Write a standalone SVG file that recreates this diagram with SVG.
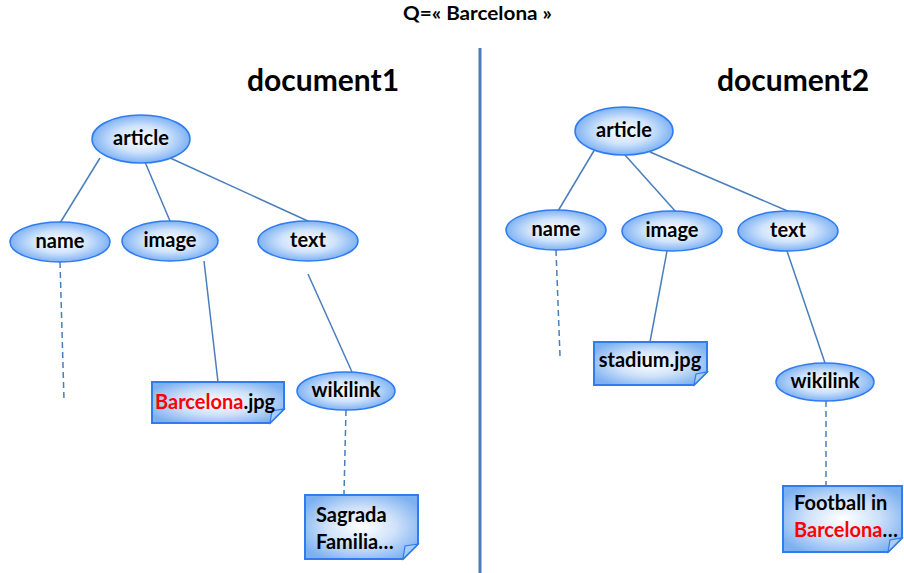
<svg xmlns="http://www.w3.org/2000/svg" width="904" height="573" viewBox="0 0 904 573">
<defs>
<radialGradient id="eg" cx="50%" cy="50%" r="55%">
<stop offset="0" stop-color="#ffffff"/>
<stop offset="0.5" stop-color="#cfe3fb"/>
<stop offset="1" stop-color="#6ea8f2"/>
</radialGradient>
<radialGradient id="ng" cx="50%" cy="50%" r="60%">
<stop offset="0" stop-color="#ffffff"/>
<stop offset="0.5" stop-color="#cfe2fa"/>
<stop offset="1" stop-color="#7cb0f0"/>
</radialGradient>
<style>
.el{fill:url(#eg);stroke:#2f7cf0;stroke-width:1.5}
.nt{fill:url(#ng);stroke:#2f7cf0;stroke-width:2}
.fold{fill:#a9cdf8;stroke:#2f7cf0;stroke-width:1.2}
.t{font-family:Lato,"Liberation Sans",sans-serif;font-weight:bold;font-size:20px;fill:#000;text-anchor:middle}
.tl{font-family:Lato,"Liberation Sans",sans-serif;font-weight:bold;font-size:20px;fill:#000}
.red{fill:#ff0000}
.h{font-family:Lato,"Liberation Sans",sans-serif;font-weight:bold;font-size:30px;fill:#000}
.c{stroke:#4a7ebb;stroke-width:1.5;fill:none}
.d{stroke:#4a7ebb;stroke-width:1.5;fill:none;stroke-dasharray:6 4}
</style>
</defs>
<rect width="904" height="573" fill="#fff"/>
<text x="403" y="20" textLength="149" lengthAdjust="spacingAndGlyphs" font-family="Lato,'Liberation Sans',sans-serif" font-weight="bold" font-size="19">Q=« Barcelona »</text>
<line x1="480" y1="48" x2="480" y2="573" stroke="#4a7ebb" stroke-width="3"/>
<text class="h" x="247" y="91">document1</text>
<text class="h" x="717" y="91">document2</text>
<g id="connectors">
<line class="c" x1="100" y1="158" x2="60" y2="223"/>
<line class="c" x1="145" y1="162" x2="170" y2="221"/>
<line class="c" x1="168" y1="157" x2="310" y2="222"/>
<line class="d" x1="60" y1="262" x2="64" y2="400"/>
<line class="c" x1="204" y1="261" x2="218" y2="382"/>
<line class="c" x1="308" y1="274" x2="352" y2="372"/>
<line class="d" x1="346" y1="410" x2="344" y2="494"/>
<line class="c" x1="595" y1="149" x2="558" y2="211"/>
<line class="c" x1="625" y1="155" x2="676" y2="212"/>
<line class="c" x1="650" y1="152" x2="790" y2="212"/>
<line class="d" x1="556" y1="250" x2="560" y2="356"/>
<line class="c" x1="667" y1="251" x2="650" y2="342"/>
<line class="c" x1="787" y1="251" x2="825" y2="363"/>
<line class="d" x1="826" y1="401" x2="826" y2="485"/>
</g>
<g id="d1-article"><ellipse class="el" cx="141" cy="139" rx="49" ry="24"/><text class="t" x="141" y="145">article</text></g>
<g id="d1-name"><ellipse class="el" cx="60" cy="242" rx="50" ry="20"/><text class="t" x="60" y="248">name</text></g>
<g id="d1-image"><ellipse class="el" cx="170" cy="241" rx="48" ry="20"/><text class="t" x="170" y="247">image</text></g>
<g id="d1-text"><ellipse class="el" cx="308" cy="241" rx="50" ry="20"/><text class="t" x="308" y="247">text</text></g>
<g id="d1-wikilink"><ellipse class="el" cx="346" cy="391" rx="49" ry="19"/><text class="t" x="346" y="397">wikilink</text></g>
<g id="d1-barcelonajpg">
<path class="nt" d="M152,382 H284 V409 L270,423 H152 Z"/>
<path class="fold" d="M284,409 L270,423 L272,411 Z"/>
<text class="tl" x="155" y="409"><tspan class="red">Barcelona</tspan>.jpg</text>
</g>
<g id="d1-sagrada">
<path class="nt" d="M305,495 H418 V544 L403,559 H305 Z"/>
<path class="fold" d="M418,544 L403,559 L405,546 Z"/>
<text class="tl" x="316" y="522">Sagrada</text>
<text class="tl" x="316" y="549">Familia…</text>
</g>
<g id="d2-article"><ellipse class="el" cx="624" cy="131" rx="49" ry="24"/><text class="t" x="624" y="137">article</text></g>
<g id="d2-name"><ellipse class="el" cx="556" cy="230" rx="50" ry="20"/><text class="t" x="556" y="236">name</text></g>
<g id="d2-image"><ellipse class="el" cx="672" cy="231" rx="50" ry="20"/><text class="t" x="672" y="237">image</text></g>
<g id="d2-text"><ellipse class="el" cx="788" cy="231" rx="50" ry="20"/><text class="t" x="788" y="237">text</text></g>
<g id="d2-wikilink"><ellipse class="el" cx="825" cy="382" rx="49" ry="19"/><text class="t" x="825" y="388">wikilink</text></g>
<g id="d2-stadium">
<path class="nt" d="M594,342 H707 V372 L694,385 H594 Z"/>
<path class="fold" d="M707,372 L694,385 L696,374 Z"/>
<text class="t" x="650" y="367">stadium.jpg</text>
</g>
<g id="d2-football">
<path class="nt" d="M783,486 H902 V538 L888,552 H783 Z"/>
<path class="fold" d="M902,538 L888,552 L890,540 Z"/>
<text class="tl" x="794" y="510">Football in</text>
<text class="tl" x="794" y="537"><tspan class="red">Barcelona</tspan>…</text>
</g>
</svg>
